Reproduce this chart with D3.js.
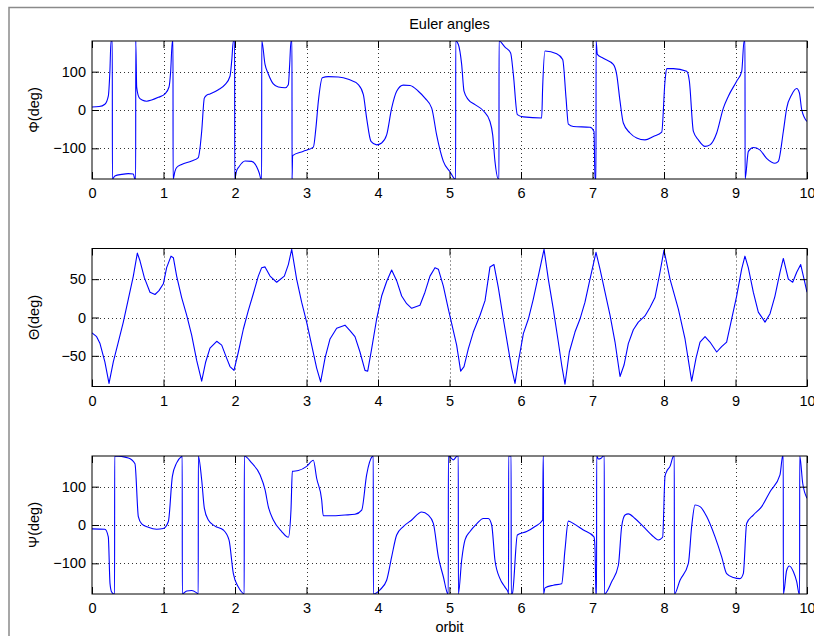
<!DOCTYPE html>
<html>
<head>
<meta charset="utf-8">
<script src="https://cdn.jsdelivr.net/npm/d3@7"></script>
<style>
  html, body { margin: 0; padding: 0; background: #fff; }
  svg text { font-family: "Liberation Sans", Arial, Helvetica, sans-serif; fill: #000; }
</style>
</head>
<body>
<div id="chart"></div>
<script>
// ---------- DATA ----------
const titleText = "Euler angles";
const xLabel = "orbit";
const xTicks = [0, 1, 2, 3, 4, 5, 6, 7, 8, 9, 10];

const phiLabel = "Φ(deg)";
const phiTicks = [-100, 0, 100];
const phiOrbit = [0, 0.10, 0.18, 0.228, 0.25, 0.266, 0.284, 0.285, 0.32, 0.415, 0.508, 0.578, 0.601, 0.611, 0.612, 0.625, 0.66, 0.70, 0.765, 0.834, 0.928, 1.021, 1.077, 1.10, 1.124, 1.133, 1.134, 1.16, 1.184, 1.254, 1.394, 1.487, 1.51, 1.534, 1.571, 1.60, 1.650, 1.767, 1.860, 1.930, 1.955, 1.977, 1.995, 1.996, 2.02, 2.056, 2.14, 2.233, 2.303, 2.34, 2.364, 2.373, 2.374, 2.42, 2.466, 2.536, 2.606, 2.70, 2.746, 2.765, 2.783, 2.797, 2.798, 2.806, 2.95, 3.096, 3.13, 3.166, 3.221, 3.305, 3.445, 3.585, 3.725, 3.795, 3.841, 3.902, 3.981, 4.051, 4.121, 4.191, 4.261, 4.354, 4.448, 4.564, 4.657, 4.751, 4.820, 4.867, 4.914, 5.007, 5.077, 5.086, 5.087, 5.124, 5.170, 5.203, 5.263, 5.357, 5.473, 5.566, 5.604, 5.636, 5.683, 5.692, 5.693, 5.776, 5.855, 5.893, 5.949, 6.033, 6.289, 6.303, 6.336, 6.499, 6.583, 6.630, 6.662, 6.732, 6.965, 7.021, 7.035, 7.049, 7.05, 7.068, 7.151, 7.291, 7.338, 7.385, 7.431, 7.524, 7.618, 7.734, 7.851, 7.968, 8.014, 8.038, 8.131, 8.317, 8.355, 8.411, 8.481, 8.574, 8.643, 8.737, 8.830, 8.900, 9.016, 9.087, 9.120, 9.133, 9.134, 9.180, 9.250, 9.340, 9.435, 9.552, 9.599, 9.669, 9.716, 9.786, 9.856, 9.893, 9.926, 10.0];
const phiDeg = [8, 9, 15, 36, 100, 180, 180, -180, -172, -168, -166, -167, -180, -180, 180, 60, 32, 26, 23, 26, 33, 42, 60, 100, 180, 180, -180, -160, -150, -142, -133, -124, -100, -56, 31, 38, 42, 53, 66, 88, 130, 180, 180, -180, -160, -148, -133, -134, -148, -165, -180, -180, 180, 119, 94, 68, 60, 58, 66, 120, 180, 180, -180, -119, -108, -97, -50, 23, 84, 87, 86, 80, 66, 40, -21, -82, -91, -86, -65, 5, 49, 65, 64, 49, 31, 5, -65, -104, -134, -161, -180, -180, 180, 171, 119, 49, 27, 14, -2, -30, -65, -134, -180, -180, 180, 164, 149, 93, -12, -18, -21, 60, 154, 147, 132, 31, -37, -43, -45, -56, -180, -180, 180, 145, 135, 119, 93, 23, -34, -60, -73, -78, -69, -58, 75, 108, 108, 101, 75, -56, -78, -95, -91, -60, 5, 36, 75, 101, 180, 180, -180, -108, -98, -104, -126, -139, -134, -56, 5, 40, 56, 45, 1, -30];

const thetaLabel = "Θ(deg)";
const thetaTicks = [-50, 0, 50];
const thetaOrbit = [0, 0.065, 0.112, 0.18, 0.238, 0.298, 0.368, 0.438, 0.508, 0.578, 0.634, 0.671, 0.732, 0.811, 0.881, 0.937, 0.998, 1.044, 1.105, 1.138, 1.184, 1.254, 1.324, 1.394, 1.464, 1.534, 1.590, 1.650, 1.744, 1.814, 1.883, 1.930, 1.986, 2.047, 2.117, 2.186, 2.256, 2.326, 2.373, 2.420, 2.49, 2.583, 2.69, 2.746, 2.793, 2.862, 2.932, 3.002, 3.072, 3.142, 3.198, 3.259, 3.329, 3.422, 3.538, 3.608, 3.678, 3.748, 3.818, 3.856, 3.911, 3.981, 4.051, 4.121, 4.191, 4.261, 4.331, 4.401, 4.471, 4.587, 4.657, 4.727, 4.797, 4.844, 4.914, 4.984, 5.100, 5.156, 5.203, 5.263, 5.333, 5.427, 5.497, 5.566, 5.622, 5.683, 5.753, 5.823, 5.869, 5.916, 5.963, 6.033, 6.103, 6.172, 6.242, 6.322, 6.382, 6.452, 6.522, 6.569, 6.615, 6.676, 6.755, 6.825, 6.895, 6.965, 7.049, 7.105, 7.175, 7.245, 7.315, 7.385, 7.441, 7.501, 7.571, 7.641, 7.734, 7.804, 7.874, 7.944, 8.0, 8.084, 8.201, 8.294, 8.387, 8.448, 8.504, 8.574, 8.643, 8.737, 8.806, 8.876, 8.946, 9.016, 9.086, 9.132, 9.179, 9.249, 9.319, 9.413, 9.483, 9.552, 9.622, 9.669, 9.739, 9.800, 9.856, 9.912, 9.949, 10.0];
const thetaDeg = [-20, -25, -34, -58, -86, -58, -32, -6, 24, 54, 84, 74, 52, 33, 30, 35, 44, 65, 80, 78, 54, 26, 3, -23, -56, -83, -58, -40, -31, -36, -53, -64, -69, -45, -15, 9, 31, 54, 65, 66, 54, 46, 54, 69, 89, 50, 20, -6, -36, -66, -84, -53, -28, -14, -10, -17, -25, -45, -69, -70, -41, -2, 28, 47, 62, 48, 28, 18, 12, 16, 33, 54, 65, 63, 41, 11, -36, -70, -64, -41, -19, 3, 22, 66, 69, 39, -2, -41, -66, -86, -58, -21, -2, 24, 54, 89, 50, 11, -32, -62, -87, -45, -19, -2, 20, 50, 85, 63, 33, 3, -32, -77, -62, -34, -16, -6, 2, 13, 26, 59, 88, 50, 11, -28, -83, -53, -32, -25, -32, -45, -38, -32, -2, 28, 63, 80, 65, 33, 7, -6, 5, 28, 59, 77, 50, 46, 59, 69, 54, 33];

const psiLabel = "Ψ(deg)";
const psiTicks = [-100, 0, 100];
const psiOrbit = [0, 0.18, 0.228, 0.252, 0.275, 0.308, 0.316, 0.317, 0.508, 0.601, 0.648, 0.695, 0.788, 0.904, 0.998, 1.068, 1.124, 1.184, 1.254, 1.262, 1.263, 1.324, 1.394, 1.464, 1.486, 1.487, 1.534, 1.571, 1.627, 1.720, 1.837, 1.916, 1.977, 2.047, 2.117, 2.129, 2.13, 2.233, 2.350, 2.42, 2.466, 2.536, 2.653, 2.746, 2.783, 2.802, 2.886, 3.002, 3.096, 3.142, 3.212, 3.235, 3.352, 3.538, 3.678, 3.772, 3.841, 3.921, 3.934, 3.935, 4.028, 4.121, 4.191, 4.261, 4.354, 4.471, 4.611, 4.704, 4.774, 4.844, 4.914, 4.974, 4.983, 4.984, 5.01, 5.054, 5.09, 5.11, 5.123, 5.124, 5.17, 5.217, 5.287, 5.38, 5.473, 5.543, 5.59, 5.636, 5.706, 5.776, 5.823, 5.826, 5.827, 5.862, 5.863, 5.88, 5.949, 6.079, 6.196, 6.303, 6.31, 6.314, 6.315, 6.336, 6.452, 6.569, 6.615, 6.662, 6.732, 6.872, 7.021, 7.035, 7.049, 7.057, 7.058, 7.082, 7.12, 7.151, 7.165, 7.166, 7.268, 7.362, 7.408, 7.455, 7.501, 7.594, 7.711, 7.827, 7.921, 7.981, 8.014, 8.038, 8.084, 8.131, 8.144, 8.145, 8.224, 8.341, 8.387, 8.434, 8.504, 8.597, 8.714, 8.807, 8.876, 8.97, 9.063, 9.109, 9.156, 9.249, 9.366, 9.483, 9.622, 9.659, 9.668, 9.669, 9.716, 9.753, 9.81, 9.856, 9.889, 9.897, 9.898, 9.94, 10.0];
const psiDeg = [-10, -11, -31, -153, -175, -180, -180, 180, 175, 160, 22, 3, -6, -11, -9, 9, 127, 162, 179, 180, -180, -172, -171, -177, -180, 180, 118, 44, 13, -3, -13, -39, -127, -162, -179, -180, 180, 162, 131, 92, 48, 13, -17, -32, 39, 140, 142, 153, 169, 122, 66, 24, 24, 26, 28, 39, 131, 179, 180, -180, -169, -144, -83, -26, -4, 13, 34, 26, 4, -83, -135, -179, -180, 180, 177, 170, 177, 180, 180, -180, -92, -39, -17, 3, 17, 17, 0, -92, -140, -162, -177, -180, 180, 180, -180, -178, -26, -17, -4, 13, 180, 180, -180, -164, -157, -153, -65, 10, 4, -13, -31, -60, -179, -180, 180, 172, 174, 180, 180, -180, -148, -105, -4, 26, 29, 17, -4, -26, -39, -32, 127, 140, 153, 179, 180, -180, -144, -100, -4, 52, 48, 22, -31, -83, -127, -137, -140, -127, 4, 26, 48, 87, 131, 179, 180, -180, -118, -107, -122, -148, -179, -180, 180, 109, 70];

// ---------- LAYOUT ----------
const W = 814, H = 636;
const left = 92, right = 807, panelH = 138;
const panels = [
  { top: 41,    dom: [-180, 180], ticks: phiTicks,   label: phiLabel,   xs: phiOrbit,   ys: phiDeg,   curve: d3.curveMonotoneX },
  { top: 248.5, dom: [-90, 90],   ticks: thetaTicks, label: thetaLabel, xs: thetaOrbit, ys: thetaDeg, curve: d3.curveLinear },
  { top: 456,   dom: [-180, 180], ticks: psiTicks,   label: psiLabel,   xs: psiOrbit,   ys: psiDeg,   curve: d3.curveMonotoneX }
];
const fontSize = "14.5px";

const svg = d3.select("#chart").append("svg")
  .attr("width", W).attr("height", H)
  .attr("viewBox", `0 0 ${W} ${H}`);

// figure frame
svg.append("path")
  .attr("d", `M9,${H + 5} L9,7.5 L${W + 5},7.5`)
  .attr("fill", "none").attr("stroke", "#8a8a8a").attr("stroke-width", 1.5);

const x = d3.scaleLinear().domain([0, 10]).range([left, right]);

panels.forEach((p, i) => {
  const y = d3.scaleLinear().domain(p.dom).range([p.top + panelH, p.top]);
  const g = svg.append("g");

  // grid
  const grid = g.append("g").attr("stroke", "#333").attr("stroke-width", 1)
    .attr("stroke-dasharray", "1,3");
  xTicks.slice(1, -1).forEach(t => {
    grid.append("line").attr("x1", Math.round(x(t)) + 0.5).attr("x2", Math.round(x(t)) + 0.5)
      .attr("y1", p.top).attr("y2", p.top + panelH);
  });
  p.ticks.forEach(t => {
    grid.append("line").attr("y1", Math.round(y(t)) + 0.5).attr("y2", Math.round(y(t)) + 0.5)
      .attr("x1", left).attr("x2", right);
  });

  // clip
  const cid = "clip" + i;
  svg.append("clipPath").attr("id", cid).append("rect")
    .attr("x", left).attr("y", p.top).attr("width", right - left).attr("height", panelH);

  const pts = p.xs.map((v, k) => [v, p.ys[k]]);
  g.append("path")
    .datum(pts)
    .attr("clip-path", `url(#${cid})`)
    .attr("fill", "none").attr("stroke", "#0000ff").attr("stroke-width", 1.1)
    .attr("stroke-linejoin", "round")
    .attr("d", d3.line().x(d => x(d[0])).y(d => y(d[1])).curve(p.curve));

  // axes (ticks inward on all four sides)
  const bottom = g.append("g").attr("transform", `translate(0,${p.top + panelH})`)
    .call(d3.axisBottom(x).tickValues(xTicks).tickFormat(d3.format("d"))
      .tickSizeInner(-7).tickSizeOuter(0).tickPadding(9));
  const top = g.append("g").attr("transform", `translate(0,${p.top})`)
    .call(d3.axisTop(x).tickValues(xTicks).tickFormat("")
      .tickSizeInner(-7).tickSizeOuter(0));
  const leftAx = g.append("g").attr("transform", `translate(${left},0)`)
    .call(d3.axisLeft(y).tickValues(p.ticks).tickFormat(d3.format("d"))
      .tickSizeInner(-7).tickSizeOuter(0).tickPadding(6));
  const rightAx = g.append("g").attr("transform", `translate(${right},0)`)
    .call(d3.axisRight(y).tickValues(p.ticks).tickFormat("")
      .tickSizeInner(-7).tickSizeOuter(0));
  [bottom, top, leftAx, rightAx].forEach(a => {
    a.select(".domain").remove();
    a.selectAll("line").attr("stroke", "#000");
    a.selectAll("text").style("font-size", fontSize).attr("fill", "#000")
      .style("font-family", "'Liberation Sans', Arial, Helvetica, sans-serif");
  });

  // box
  g.append("rect").attr("x", left).attr("y", p.top)
    .attr("width", right - left).attr("height", panelH)
    .attr("fill", "none").attr("stroke", "#000").attr("stroke-width", 1);

  // y label
  svg.append("text")
    .attr("transform", `translate(39,${p.top + panelH / 2}) rotate(-90)`)
    .attr("text-anchor", "middle").style("font-size", fontSize)
    .text(p.label);
});

// title
svg.append("text").attr("x", (left + right) / 2).attr("y", 28.5)
  .attr("text-anchor", "middle").style("font-size", fontSize).text(titleText);

// x label
svg.append("text").attr("x", (left + right) / 2).attr("y", 631.5)
  .attr("text-anchor", "middle").style("font-size", fontSize).text(xLabel);
</script>
</body>
</html>
